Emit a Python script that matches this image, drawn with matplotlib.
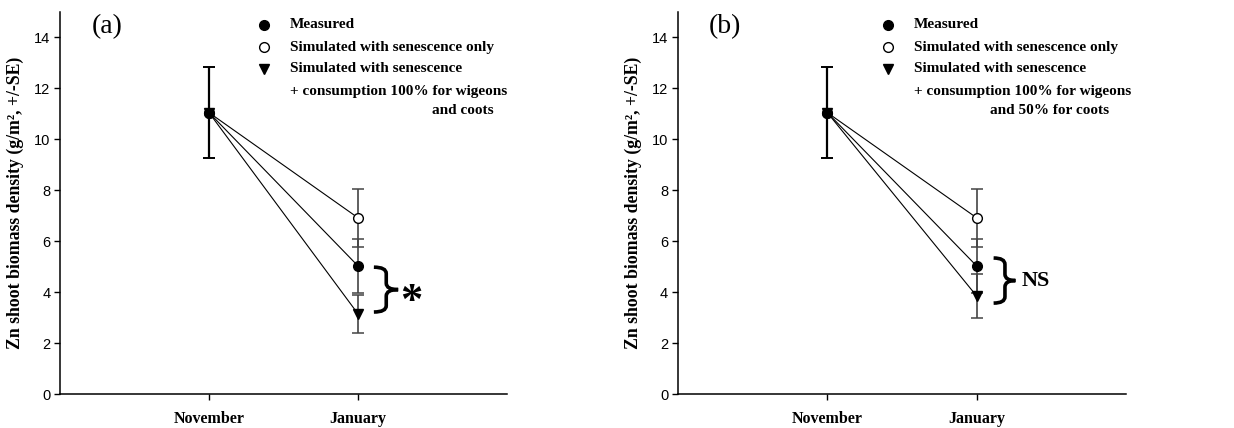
import matplotlib
matplotlib.use("Agg")
import matplotlib.pyplot as plt
from matplotlib.path import Path
from matplotlib.patches import PathPatch

# data
months = ["November", "January"]
measured = [11.05, 5.03]
measured_se = [1.8, 1.07]
senescence = [11.05, 6.92]
senescence_se = [0.0, 1.13]
consumption_a = [11.05, 3.15]
consumption_a_se = [0.0, 0.75]
consumption_b = [11.05, 3.85]
consumption_b_se = [0.0, 0.87]

serif = "Liberation Serif"
sans = "Liberation Sans"


def draw_brace(ax, x0, xm, xtip, top, bot, ry=0.25):
    mid = (top + bot) / 2
    verts = [(x0, top), (xm, top), (xm, top - ry), (xm, mid + ry), (xm, mid), (xtip, mid),
             (xtip, mid), (xm, mid), (xm, mid - ry), (xm, bot + ry), (xm, bot), (x0, bot)]
    codes = [Path.MOVETO, Path.CURVE3, Path.CURVE3, Path.LINETO, Path.CURVE3, Path.CURVE3,
             Path.MOVETO, Path.CURVE3, Path.CURVE3, Path.LINETO, Path.CURVE3, Path.CURVE3]
    ax.add_patch(PathPatch(Path(verts, codes), fill=False, lw=2.6, edgecolor="black",
                           capstyle="butt", clip_on=False))


def draw_panel(ax, cons, cons_se, letter, legend_lines, leg_x, cont_x):
    x = [1, 2]
    # connecting lines
    for series in [senescence, measured, cons]:
        ax.plot(x, series, color="black", lw=0.8, zorder=2)
    # error bars
    ax.errorbar([1], [measured[0]], yerr=[measured_se[0]], fmt="none", ecolor="black",
                elinewidth=1.6, capsize=4, capthick=1.4, zorder=1)
    for series, se in [(senescence, senescence_se), (measured, measured_se), (cons, cons_se)]:
        ax.errorbar([2], [series[1]], yerr=[se[1]], fmt="none", ecolor="#444444",
                    elinewidth=1.2, capsize=4, capthick=1.1, zorder=1)
    # markers
    ax.plot(x, cons, "v", color="black", ms=7, zorder=3, clip_on=False)
    ax.plot(x, senescence, "o", mfc="white", mec="black", mew=1, ms=7, zorder=4)
    ax.plot(x, measured, "o", color="black", ms=7, zorder=5)

    ax.set_xlim(0, 3)
    ax.set_ylim(0, 15)
    ax.set_xticks(x)
    ax.set_xticklabels(months, fontfamily=serif, fontweight="bold", fontsize=11.5)
    ax.set_yticks(range(0, 15, 2))
    ax.set_yticklabels([str(v) for v in range(0, 15, 2)], fontfamily=sans, fontsize=10.5)
    ax.tick_params(direction="out", length=4, width=1, pad=3)
    ax.tick_params(axis="x", pad=8)
    for s in ["top", "right"]:
        ax.spines[s].set_visible(False)
    for s in ["left", "bottom"]:
        ax.spines[s].set_linewidth(1.1)
    ax.set_ylabel("Zn shoot biomass density (g/m\u00b2, +/-SE)", fontfamily=serif,
                  fontweight="bold", fontsize=12.8, labelpad=7)

    ax.text(0.105, 0.962, letter, transform=ax.transAxes, fontfamily=serif,
            fontsize=20, ha="center", va="center")

    # legend built by hand
    rows = [0.966, 0.908, 0.851]
    styles = [dict(marker="o", color="black"),
              dict(marker="o", mfc="white", mec="black", mew=1),
              dict(marker="v", color="black")]
    fs = 11
    for r, st, label in zip(rows, styles, legend_lines[:3]):
        ax.plot([leg_x], [r], ls="none", ms=7, transform=ax.transAxes, clip_on=False, **st)
        ax.text(leg_x + 0.058, r, label, transform=ax.transAxes, fontfamily=serif,
                fontweight="bold", fontsize=fs, va="center")
    ax.text(leg_x + 0.058, 0.793, legend_lines[3], transform=ax.transAxes, fontfamily=serif,
            fontweight="bold", fontsize=fs, va="center")
    ax.text(cont_x, 0.741, legend_lines[4], transform=ax.transAxes, fontfamily=serif,
            fontweight="bold", fontsize=fs, va="center")


fig = plt.figure(figsize=(12.34, 4.28), dpi=100)
ax1 = fig.add_axes([0.0486, 0.0794, 0.3622, 0.8926])
ax2 = fig.add_axes([0.5494, 0.0794, 0.3630, 0.8926])

draw_panel(ax1, consumption_a, consumption_a_se, "(a)",
           ["Measured", "Simulated with senescence only", "Simulated with senescence",
            "+ consumption 100% for wigeons", "and coots"], 0.456, 0.832)
draw_panel(ax2, consumption_b, consumption_b_se, "(b)",
           ["Measured", "Simulated with senescence only", "Simulated with senescence",
            "+ consumption 100% for wigeons", "and 50% for coots"], 0.469, 0.696)

draw_brace(ax1, 2.107, 2.19, 2.27, 4.98, 3.22)
ax1.text(2.36, 3.6, "*", fontfamily=serif, fontweight="bold", fontsize=32,
         ha="center", va="center")
draw_brace(ax2, 2.114, 2.19, 2.26, 5.34, 3.57)
ax2.text(2.30, 4.45, "NS", fontfamily=serif, fontweight="bold", fontsize=16,
         ha="left", va="center")

fig.savefig("out.png", dpi=100)
